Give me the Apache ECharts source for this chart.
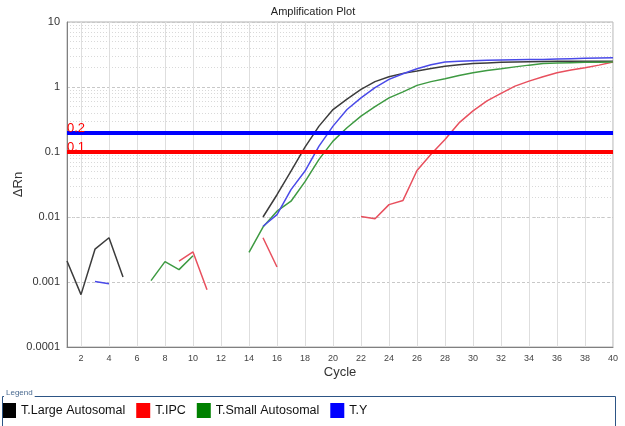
<!DOCTYPE html>
<html><head><meta charset="utf-8">
<script src="https://cdn.jsdelivr.net/npm/echarts@6/dist/echarts.min.js"></script>
<style>html,body{margin:0;padding:0;background:#fff}#c{width:625px;height:426px}</style>
</head><body><div id="c"></div>
<script>
const cycles = [1,2,3,4,5,6,7,8,9,10,11,12,13,14,15,16,17,18,19,20,21,22,23,24,25,26,27,28,29,30,31,32,33,34,35,36,37,38,39,40];
const seriesNames = ['T.Large Autosomal','T.IPC','T.Small Autosomal','T.Y'];
const largeAutosomal = [0.0021,0.00064,0.0032,0.0048,0.00119,null,null,null,null,null,null,null,null,null,
  0.0100,0.022,0.051,0.119,0.25,0.45,0.65,0.92,1.21,1.44,1.62,1.76,1.93,2.08,2.2,2.29,2.35,2.4,2.43,2.45,2.47,2.48,2.49,2.5,2.5,2.5];
const ipc = [null,null,null,null,null,null,null,null,0.0021,0.0029,0.00076,null,null,null,0.0048,0.0017,null,null,null,null,null,
  0.0102,0.0094,0.0155,0.018,0.052,0.092,0.156,0.28,0.43,0.61,0.80,1.03,1.23,1.44,1.66,1.82,1.98,2.17,2.42];
const smallAutosomal = [null,null,null,null,null,null,0.00105,0.00206,0.00155,0.00254,null,null,null,
  0.00286,0.0070,0.0123,0.0175,0.035,0.077,0.147,0.236,0.357,0.50,0.68,0.84,1.06,1.21,1.34,1.50,1.66,1.79,1.91,2.04,2.17,2.29,2.33,2.37,2.40,2.41,2.42];
const tY = [null,null,0.00102,0.00094,null,null,null,null,null,null,null,null,null,null,
  0.0072,0.0109,0.0264,0.051,0.123,0.25,0.45,0.68,0.98,1.31,1.6,1.91,2.2,2.42,2.5,2.54,2.57,2.6,2.62,2.64,2.66,2.7,2.73,2.76,2.79,2.82];
const thresholds = [0.2, 0.1];
const thresholdLabels = ['0.2','0.1'];
const yTickLabels = ['0.0001','0.001','0.01','0.1','1','10'];
const xTickLabels = ['2','4','6','8','10','12','14','16','18','20','22','24','26','28','30','32','34','36','38','40'];

const lineColors = ['#3c3c3c','#e8505e','#3e9a42','#4a4ae8'];
const legendColors = ['#000000','#ff0000','#008000','#0000ff'];
const thresholdColors = ['#0000ff','#ff0000'];
const FONT = 'Liberation Sans, Arial, sans-serif';

const allData = [largeAutosomal, ipc, smallAutosomal, tY];

// minor log grid lines (2..9 per decade) - styling only
const minorLines = [];
for (let e = -4; e <= 0; e++) {
  for (let m = 2; m <= 9; m++) minorLines.push({yAxis: m * Math.pow(10, e)});
}

const series = [];
series.push({
  name: 'minorgrid', type: 'line', data: [], silent: true, z: 0, animation: false,
  markLine: {
    silent: true, symbol: 'none', animation: false, z: 0,
    label: {show: false},
    lineStyle: {color: '#d9d9d9', type: [1, 2], width: 1},
    data: minorLines
  }
});
allData.forEach((d, i) => series.push({
  name: seriesNames[i],
  type: 'line',
  data: d.map((v, j) => [cycles[j], v]),
  showSymbol: false,
  connectNulls: false,
  lineStyle: {color: lineColors[i], width: 1.5},
  itemStyle: {color: lineColors[i]},
  z: 3,
  silent: true,
  animation: false
}));
series.push({
  name: 'thresholds', type: 'line', data: [], silent: true, z: 6, animation: false,
  markLine: {
    silent: true, symbol: 'none', animation: false, z: 6,
    data: thresholds.map((t, i) => ({
      yAxis: t,
      lineStyle: {color: thresholdColors[i], width: 4, type: 'solid'},
      label: {show: true, position: 'insideStartTop', formatter: thresholdLabels[i], color: '#ff0000',
        fontSize: 13, fontFamily: FONT, distance: [0, -2], padding: 0}
    }))
  }
});

const chart = echarts.init(document.getElementById('c'), null, {renderer: 'canvas'});
chart.setOption({
  animation: false,
  backgroundColor: '#fff',
  title: {
    text: 'Amplification Plot', left: 308, top: 1, textAlign: 'center',
    textStyle: {fontSize: 11, fontWeight: 'normal', color: '#222', fontFamily: FONT}
  },
  grid: {left: 67, right: 12, top: 22, bottom: 79, show: true, borderColor: '#b0b0b0', borderWidth: 1},
  xAxis: {
    type: 'value', min: 1, max: 40, interval: 1,
    name: 'Cycle', nameLocation: 'middle', nameGap: 19, nameMoveOverlap: false,
    nameTextStyle: {fontSize: 13, color: '#333', fontFamily: FONT},
    axisLine: {lineStyle: {color: '#808080'}},
    axisTick: {show: false},
    axisLabel: {
      fontSize: 9, color: '#444', fontFamily: FONT, margin: 7,
      showMinLabel: false,
      formatter: v => (v % 2 === 0 ? xTickLabels[v / 2 - 1] : '')
    },
    splitLine: {show: true, lineStyle: {color: ['rgba(255,255,255,0)', '#dedede'], type: 'solid', width: 1}}
  },
  yAxis: {
    type: 'log', logBase: 10, min: 0.0001, max: 10,
    name: 'ΔRn', nameLocation: 'middle', nameGap: 42, nameRotate: 90, nameMoveOverlap: false,
    nameTextStyle: {fontSize: 13, color: '#333', fontFamily: FONT},
    axisLine: {show: true, lineStyle: {color: '#808080'}},
    axisTick: {show: false},
    axisLabel: {
      fontSize: 11, color: '#333', fontFamily: FONT, margin: 7,
      formatter: v => yTickLabels[Math.round(Math.log10(v)) + 4]
    },
    splitLine: {show: true, lineStyle: {color: '#c8c8c8', type: [3, 2], width: 1}}
  },
  legend: {
    left: 2, top: 403, orient: 'horizontal', icon: 'rect', padding: 0,
    itemWidth: 14, itemHeight: 15, itemGap: 11,
    textStyle: {fontSize: 12.5, color: '#111', fontFamily: FONT},
    data: seriesNames.map((n, i) => ({name: n, itemStyle: {color: legendColors[i]}})),
    selectedMode: false
  },
  graphic: [
    {type: 'rect', left: 0, top: 394, shape: {width: 613, height: 40}, style: {fill: 'none', stroke: '#2d5585', lineWidth: 1}, z: 10},
    {type: 'text', left: 4, top: 389, style: {text: 'Legend', fontSize: 8, fill: '#4a6a90', fontFamily: FONT, backgroundColor: '#fff', padding: [0, 2, 0, 2]}, z: 11}
  ],
  series: series
});
</script>
</body></html>
